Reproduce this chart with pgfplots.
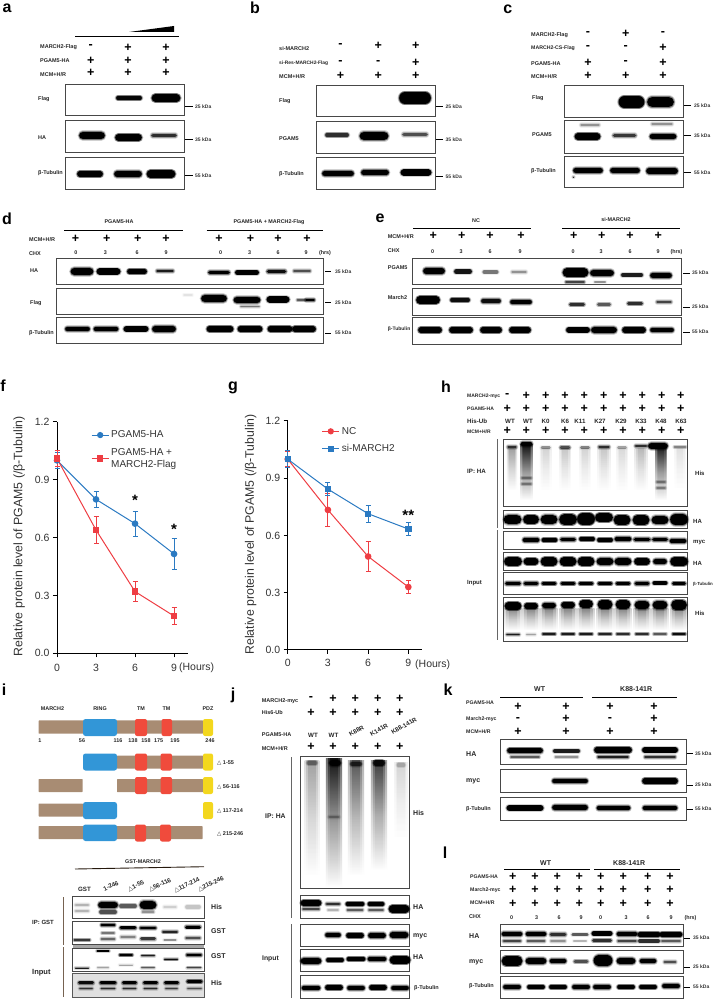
\documentclass[border=0pt]{standalone}
\usepackage{fontspec}
\setmainfont{Liberation Sans}
\newfontfamily\djv{DejaVu Sans}
\usepackage{pgfplots}
\pgfplotsset{compat=1.18}
\definecolor{bluec}{RGB}{43,122,194}
\definecolor{redc}{RGB}{238,61,67}
\definecolor{brownc}{RGB}{168,140,115}
\definecolor{ringc}{RGB}{50,150,215}
\definecolor{tmc}{RGB}{240,75,60}
\definecolor{pdzc}{RGB}{243,215,30}
\tikzset{
  lab/.style={font=\bfseries\fontsize{5.5}{6}\selectfont,anchor=west,inner sep=0pt,text=black!85},
  blab/.style={font=\bfseries\fontsize{7}{8}\selectfont,anchor=west,inner sep=0pt,text=black!85},
  panel/.style={font=\bfseries\fontsize{16}{16}\selectfont,anchor=center,inner sep=0pt},
  sgn/.style={font=\bfseries\fontsize{12.5}{10}\selectfont,anchor=center,inner sep=0pt},
  numl/.style={font=\bfseries\fontsize{5.4}{6}\selectfont,anchor=center,inner sep=0pt,text=black!85},
  kd/.style={font=\bfseries\fontsize{5}{6}\selectfont,anchor=west,inner sep=0pt,text=black!80},
  rl/.style={font=\bfseries\fontsize{6.2}{7}\selectfont,anchor=center,inner sep=0pt,text=black!85},
}

% canvas axis: one unit is one pixel of the reference, y runs downward
\newcommand\Lab[3]{\node[lab] at (axis cs:#1,#2) {#3};}
\newcommand\Bl[3]{\node[blab] at (axis cs:#1,#2) {#3};}
\newcommand\Let[3]{\node[panel] at (axis cs:#1,#2) {#3};}
\newcommand\Plus[2]{\pgfplotsinvokeforeach{#2}{\node[sgn] at (axis cs:##1,#1) {+};}}
\newcommand\Minus[2]{\pgfplotsinvokeforeach{#2}{\node[sgn] at (axis cs:##1,#1) {-};}}
\newcommand\Txt[3]{\node[numl] at (axis cs:#1,#2) {#3};}
\newcommand\Rl[4]{\node[rl,rotate=#3] at (axis cs:#1,#2) {#4};}
\newcommand\Sz[4]{\node[lab,font=\bfseries\fontsize{#3}{8}\selectfont] at (axis cs:#1,#2) {#4};}
\newcommand\Rule[3]{\addplot[black,line width=0.9pt] coordinates {(#1,#3) (#2,#3)};}
\newcommand\Bx[4]{\addplot[draw=black!72,line width=0.9pt,fill=white] coordinates {(#1,#2) (#3,#2) (#3,#4) (#1,#4)} --cycle;}
\newcommand\KD[3]{\edef\doplot{\noexpand\addplot[black,line width=1pt] coordinates {(#1,#2) (\kx,#2)};\noexpand\node[kd] at (axis cs:\kt,#2) {#3};}\doplot}
% band: x, y, width, height, strength
\newcommand\B[5]{%
  \pgfmathsetmacro\xa{#1-max(#3-#4,0.5)/2}\pgfmathsetmacro\xb{#1+max(#3-#4,0.5)/2}%
  \pgfmathsetmacro\oa{#5*0.18}\pgfmathsetmacro\wa{#4+2.8}\pgfmathsetmacro\oe{#5*0.42}\pgfmathsetmacro\we{#4+1.3}%
  \pgfmathsetmacro\wc{max(#4-0.3,0.6)}%
  \edef\doplot{\noexpand\addplot[black,line cap=round,line width=\wa pt,opacity=\oa] coordinates {(\xa,#2) (\xb,#2)};%
    \noexpand\addplot[black,line cap=round,line width=\we pt,opacity=\oe] coordinates {(\xa,#2) (\xb,#2)};%
    \noexpand\addplot[black,line cap=round,line width=\wc pt,opacity=#5] coordinates {(\xa,#2) (\xb,#2)};}\doplot}
% one shaded column of a smear
\newcommand\Sh[5]{%
  \pgfmathsetmacro\sl{#1-#4/2}\pgfmathsetmacro\sr{#1+#4/2}\pgfmathsetmacro\sb{#2+#3}%
  \edef\doplot{\noexpand\addplot[draw=none,top color=black,bottom color=white,middle color=black!42,opacity=#5] coordinates {(\sl,#2) (\sr,#2) (\sr,\sb) (\sl,\sb)} --cycle;}\doplot}
% smear: x, top, length, width, strength
\newcommand\Smear[5]{%
  \pgfmathsetmacro\wo{#4*1.15}\pgfmathsetmacro\wm{#4*0.85}\pgfmathsetmacro\wi{#4*0.55}%
  \Sh{#1}{#2}{#3}{\wo}{#5}\Sh{#1}{#2}{#3}{\wm}{#5}\Sh{#1}{#2}{#3}{\wi}{#5}}
\newcommand\Seg[6]{\addplot[fill=#6,draw=none,rounded corners=#5] coordinates {(#1,#3) (#2,#3) (#2,#4) (#1,#4)} --cycle;}

\begin{document}
\begin{tikzpicture}[x=1pt,y=1pt]
\path[use as bounding box] (0,0) rectangle (712pt,1000pt);
\begin{axis}[
  at={(0pt,0pt)},anchor=south west,scale only axis,width=712pt,height=1000pt,
  xmin=0,xmax=712,ymin=0,ymax=1000,y dir=reverse,hide axis,
]
% ---------- a
\Let{7}{8}{a}
\addplot[black,line width=1pt] coordinates {(75,37) (178.5,37)};
\addplot[black,fill=black,draw=none] coordinates {(129,32) (174,26) (174,32)} --cycle;
\Lab{40}{47.5}{MARCH2-Flag}\Lab{40}{60.5}{PGAM5-HA}\Lab{40}{74.5}{MCM+H/R}
\Minus{47}{90.7}\Plus{48}{128,166}\Plus{60.5}{90.7,128,166}\Plus{73}{90.7,128,166}
\Bx{65.7}{84}{184.3}{115.7}\Bx{65.7}{120.7}{184.3}{152.3}\Bx{65.7}{157.3}{184.3}{189.3}
\Lab{38}{99}{Flag}\Lab{38}{138}{HA}\Lab{38}{173}{β-Tubulin}
\def\kx{192.5}\def\kt{195}
\KD{185}{107}{25 kDa}\KD{185}{139.5}{35 kDa}\KD{185}{176}{55 kDa}
\B{129}{98}{26}{4}{.95}\B{166}{98}{29}{8}{1}
\B{92}{135.5}{26}{8}{1}\B{128.5}{137.5}{27}{7}{1}\B{164}{135.5}{26}{3.6}{.7}
\B{90}{174}{26}{6}{1}\B{128}{174}{28}{6.5}{1}\B{161}{174}{29}{8}{1}
% ---------- b
\Let{255}{8}{b}
\Lab{279}{49}{si-MARCH2}\Sz{279}{63.5}{4.9}{si-Res-MARCH2-Flag}\Lab{279}{77}{MCM+H/R}
\Minus{46}{340.5}\Plus{46}{378.3,415.7}\Minus{62.5}{340.5,378.3}\Plus{62.5}{415.7}\Plus{75.5}{340.5,378.3,415.7}
\Bx{316.3}{85}{435.3}{116.5}\Bx{316.3}{121}{435.3}{153}\Bx{316.3}{157.5}{435.3}{189.5}
\Lab{279}{101}{Flag}\Lab{279}{139}{PGAM5}\Lab{279}{174.5}{β-Tubulin}
\def\kx{442.5}\def\kt{445.5}
\KD{436}{107}{25 kDa}\KD{436}{139.5}{35 kDa}\KD{436}{177}{55 kDa}
\B{415}{98}{32}{12}{1}
\B{337}{135}{24}{4}{.7}\B{374}{136}{29}{9}{1}\B{415}{134.5}{26}{4}{.55}
\B{338}{173.5}{32}{6}{1}\B{375}{172.5}{28}{5.5}{1}\B{416}{172.5}{31}{6.5}{1}
% ---------- c
\Let{507.7}{9}{c}
\Lab{531}{35}{MARCH2-Flag}\Sz{531}{48.5}{5.2}{MARCH2-CS-Flag}\Lab{531}{63.5}{PGAM5-HA}\Lab{531}{77}{MCM+H/R}
\Minus{34}{588,663}\Plus{34}{625.7}\Minus{48}{588,625.7}\Plus{48}{663}\Plus{63}{588,663}\Minus{63}{625.7}\Plus{75.5}{588,625.7,663}
\Bx{564.3}{85.3}{683.3}{117}\Bx{564.3}{120.5}{683.3}{153}\Bx{564.3}{156.3}{683.3}{187.7}
\Lab{532}{98}{Flag}\Lab{532}{135}{PGAM5}\Lab{531}{171}{β-Tubulin}
\def\kx{691}\def\kt{694}
\KD{684}{105.5}{25 kDa}\KD{684}{135.5}{35 kDa}\KD{684}{173}{55 kDa}
\B{631.5}{102}{26}{12}{1}\B{660.5}{102}{27}{11}{1}
\B{590}{125}{20}{3}{.3}\B{662}{124}{22}{3}{.3}
\B{587.5}{136.5}{26}{7}{1}\B{624.5}{135.5}{24}{4}{.65}\B{663}{136.5}{27}{6}{1}
\B{588}{170.5}{30}{6}{1}\B{625}{170.5}{30}{6}{1}\B{662}{171}{32}{6.5}{1}
\B{573.5}{177}{1}{1}{.7}
% ---------- d
\Let{7}{219}{d}
\Txt{119}{222}{PGAM5-HA}\Txt{269}{222}{PGAM5-HA + MARCH2-Flag}
\Rule{64}{183}{230.5}\Rule{206.5}{323}{230.5}
\Lab{29}{239.5}{MCM+H/R}\Lab{29}{254}{CHX}\Lab{30}{271}{HA}\Lab{30}{303}{Flag}\Lab{29}{333}{β-Tubulin}
\Plus{239}{75.5,106.7,137.7,166,219,250.5,278,307}
\Txt{76}{253}{0}\Txt{105.5}{253}{3}\Txt{137}{253}{6}\Txt{166}{253}{9}\Txt{220.5}{253}{0}\Txt{249.5}{253}{3}\Txt{278}{253}{6}\Txt{306}{253}{9}\Txt{325}{253}{(hrs)}
\Bx{56}{258.3}{323.7}{284.7}\Bx{56}{288}{323.7}{314.7}\Bx{56}{317.3}{323.7}{343.5}
\def\kx{331}\def\kt{335}
\KD{325}{271.5}{35 kDa}\KD{325}{302.5}{25 kDa}\KD{325}{333}{55 kDa}
\B{82}{271.5}{23}{8}{1}\B{108.5}{271.5}{24}{6.5}{1}\B{137}{271.5}{20}{5}{1}\B{165}{271}{18}{3}{.8}
\B{219}{272.5}{22}{4}{1}\B{247}{272.5}{24}{4.5}{1}\B{276.5}{271.5}{20}{4}{.9}\B{302}{271}{18}{2.5}{.55}
\B{214}{298.5}{26}{8}{1}\B{247}{300}{27}{7}{1}\B{278}{299.5}{23}{6.5}{1}\B{310}{300}{10}{2.5}{1}\B{301}{300}{9}{2}{.5}
\B{250}{306.5}{20}{2}{.4}\B{188}{295}{10}{2}{.07}
\B{77.5}{329}{25}{5}{1}\B{106}{329}{25}{5}{1}\B{136}{329}{25}{5.5}{1}\B{164}{329}{24}{6.5}{1}
\B{220}{329}{27}{6}{1}\B{250}{329}{25}{6}{1}\B{280}{329}{25}{6}{1}\B{304}{329}{24}{6}{1}
% ---------- e
\Let{380}{218}{e}
\Txt{476}{220.5}{NC}\Txt{616}{220}{si-MARCH2}
\Rule{413}{530.5}{228}\Rule{562}{680}{228}
\Lab{387.7}{237}{MCM+H/R}\Lab{387.7}{251}{CHX}\Lab{387.7}{268}{PGAM5}\Lab{387.7}{298}{March2}\Sz{387.7}{329}{5}{β-Tubulin}
\Plus{236}{433.3,461.7,490,521,573.7,601.7,630,658.3}
\Txt{432.5}{252}{0}\Txt{461}{252}{3}\Txt{490}{252}{6}\Txt{520}{252}{9}\Txt{573}{252}{0}\Txt{601}{252}{3}\Txt{630}{252}{6}\Txt{658}{252}{9}\Txt{676.5}{252}{(hrs)}
\Bx{412.3}{258.3}{681.7}{284.3}\Bx{412.3}{288}{681.7}{315}\Bx{412.3}{317.5}{681.7}{344}
\def\kx{689.5}\def\kt{692}
\KD{683}{273}{35 kDa}\KD{683}{307}{25 kDa}\KD{683}{332}{55 kDa}
\B{434}{271}{22}{6.5}{1}\B{463}{271.5}{18}{4.5}{.85}\B{490.5}{272}{16}{3.5}{.4}\B{519}{272}{16}{3}{.3}
\B{575.5}{272.5}{26}{9}{1}\B{602}{273}{24}{7}{1}\B{632}{275}{22}{3.5}{.8}\B{661}{275.5}{22}{6}{1}
\B{575}{282}{20}{2}{.6}\B{600}{282}{12}{1.5}{.3}
\B{428}{300}{24}{8}{1}\B{460}{300}{20}{4}{.9}\B{491}{301}{20}{4.5}{.9}\B{521}{302}{22}{5}{1}
\B{577}{304.5}{16}{3}{.7}\B{604}{304.5}{14}{3}{.5}\B{635}{303.5}{16}{3}{.7}\B{664}{302}{16}{3}{.6}
\B{430}{330}{24}{6}{1}\B{461}{330}{24}{6}{1}\B{491}{330}{22}{6}{1}\B{520}{330}{22}{6}{1}
\B{578}{330}{24}{5.5}{1}\B{604}{330}{26}{7}{1}\B{634}{330}{24}{6}{1}\B{662}{330}{24}{5}{1}
% ---------- panel letters f g h
\Let{3}{386}{f}\Let{233}{388}{g}\Let{446}{387}{h}
% ---------- h
\Sz{467}{396}{5}{MARCH2-myc}\Sz{467}{408.5}{5}{PGAM5-HA}\Sz{467}{421}{6.2}{His-Ub}\Sz{467}{432}{5}{MCM+H/R}
\Minus{396}{507.3}\Plus{396}{526.3,545.7,565,584.3,603.7,623,642.3,661.7,680.7}
\Plus{409}{507.3,526.3,545.7,565,584.3,603.7,623,642.3,661.7,680.7}
\Plus{431}{507.3,526.3,545.7,565,584.3,603.7,623,642.3,661.7,680.7}
\Rl{510}{421.5}{0}{WT}\Rl{528}{421.5}{0}{WT}\Rl{545.7}{421.5}{0}{K0}\Rl{565}{421.5}{0}{K6}\Rl{580}{421.5}{0}{K11}\Rl{600}{421.5}{0}{K27}\Rl{621}{421.5}{0}{K29}\Rl{641}{421.5}{0}{K33}\Rl{661}{421.5}{0}{K48}\Rl{681}{421.5}{0}{K63}
\addplot[black!60,line width=1pt] coordinates {(497.7,439) (497.7,528)};
\addplot[black!60,line width=1pt] coordinates {(497.7,530) (497.7,640)};
\Bx{503.3}{439}{687.3}{506}\Bx{503.3}{510.3}{687.3}{528.3}\Bx{503.3}{531.3}{687.3}{549.3}\Bx{503.3}{552.7}{687.3}{570}\Bx{503.3}{572.7}{687.3}{594.3}\Bx{503.3}{597}{687.3}{641.7}
\Sz{467}{471}{6.2}{IP: HA}\Sz{467}{583}{6}{Input}\Sz{695}{473}{6}{His}\Sz{693}{521}{6}{HA}\Sz{693}{543}{6}{myc}\Sz{693}{563}{6}{HA}\Sz{693}{584}{4.4}{β-Tubulin}\Sz{695}{613.5}{6}{His}
\Smear{512}{448}{42}{9}{.14}\B{512}{447}{10}{3}{.7}
\Smear{526.5}{444}{56}{11}{.6}\B{526.5}{444}{12}{5}{1}\B{526.5}{478}{11}{2}{.3}\B{526.5}{484}{11}{2}{.3}
\Smear{545.7}{448}{42}{10}{.06}\B{545.7}{447.5}{10}{2.5}{.3}
\Smear{565}{448}{42}{10}{.08}\B{565}{447.5}{11}{3}{.55}
\Smear{585}{448}{42}{10}{.06}\B{585}{447.5}{10}{2.5}{.35}
\Smear{604}{448}{42}{11}{.08}\B{604}{447}{12}{3}{.7}
\Smear{622}{448}{42}{10}{.05}\B{622}{447.5}{10}{2.5}{.25}
\Smear{641}{448}{42}{11}{.1}\B{641}{446}{13}{3}{.7}
\Smear{661}{444}{56}{10}{.6}\B{658}{446}{20}{7}{1}\B{661}{482}{10}{2}{.3}\B{661}{488}{10}{2}{.3}
\Smear{680}{448}{40}{10}{.04}\B{680}{447}{13}{2}{.35}
\B{512.5}{519.5}{18}{10}{1}\B{531}{519.5}{16}{9}{1}\B{549}{519.5}{17}{10}{1}\B{568}{519.5}{18}{11}{1}\B{586}{519}{18}{12}{1}\B{604}{517.5}{18}{9}{1}\B{622}{520}{17}{10}{1}\B{641}{520}{17}{10}{1}\B{660}{520}{17}{9}{1}\B{679}{519.5}{18}{12}{1}
\B{531}{540}{17}{4.5}{1}\B{549.5}{540}{16}{4}{1}\B{568}{539.5}{16}{4}{1}\B{587}{539}{16}{4}{1}\B{605}{540}{16}{4}{1}\B{623}{539}{17}{4.5}{1}\B{642}{539.5}{17}{4}{1}\B{660}{539.5}{16}{4}{1}\B{678}{541}{17}{4.5}{1}
\B{513}{561.5}{18}{9}{1}\B{531}{561.5}{15}{7}{1}\B{549}{561.5}{17}{9}{1}\B{568}{561.5}{17}{9}{1}\B{586}{561.5}{17}{9}{1}\B{605}{561.5}{17}{8}{1}\B{623}{561.5}{17}{8}{1}\B{642}{561.5}{16}{7}{1}\B{660}{561.5}{14}{6}{1}\B{679}{561.5}{18}{9}{1}
\B{513}{583.5}{16}{3.5}{1}\B{531}{583.5}{15}{3.5}{1}\B{549}{583.5}{15}{3}{1}\B{568}{583.5}{15}{3}{1}\B{586}{583.5}{15}{3}{1}\B{605}{583.5}{15}{3}{1}\B{623}{583.5}{15}{3}{1}\B{642}{583.5}{15}{3.5}{1}\B{660}{583}{15}{3.5}{1}\B{679}{583.5}{14}{3}{1}
\Smear{513}{608}{22}{15}{.2}\Smear{531}{608}{22}{15}{.2}\Smear{549}{608}{22}{15}{.2}\Smear{568}{608}{22}{15}{.2}\Smear{586}{608}{22}{15}{.2}\Smear{605}{608}{22}{15}{.2}\Smear{623}{608}{22}{15}{.2}\Smear{642}{608}{22}{15}{.2}\Smear{660}{608}{22}{15}{.2}\Smear{679}{608}{22}{15}{.2}
\B{513}{606}{17}{8}{1}\B{531}{606}{14}{6}{1}\B{549}{605.5}{14}{6}{1}\B{568}{605}{14}{6}{1}\B{586}{604}{14}{8}{1}\B{605}{604.5}{15}{9}{1}\B{623}{604.5}{15}{9}{1}\B{642}{605}{15}{9}{1}\B{660}{605}{15}{9}{1}\B{679}{605}{16}{10}{1}
\B{513}{634.5}{14}{2}{.8}\B{531}{634.5}{10}{1.5}{.25}\B{549}{634}{14}{2}{.8}\B{568}{634}{14}{2}{.8}\B{586}{634}{14}{2}{.8}\B{605}{634}{14}{2}{.75}\B{623}{634}{14}{2}{.7}\B{642}{634}{14}{2}{.7}\B{660}{634}{14}{2}{.5}\B{679}{634}{14}{2}{.9}
% ---------- i
\Let{4}{690}{i}
\Txt{52.5}{709}{MARCH2}\Txt{100}{709}{RING}\Txt{141}{709}{TM}\Txt{166.5}{709}{TM}\Txt{208}{709}{PDZ}
\Seg{38.7}{203}{720.3}{733.7}{0.5pt}{brownc}\Seg{83}{117}{719}{736}{2.5pt}{ringc}\Seg{135}{147}{719}{736}{2pt}{tmc}\Seg{161.5}{172}{719}{736}{2pt}{tmc}\Seg{203}{213}{719}{736}{2pt}{pdzc}
\Txt{40}{741}{1}\Txt{82}{741}{56}\Txt{118}{741}{116}\Txt{133}{741}{138}\Txt{146}{741}{158}\Txt{158.7}{741}{175}\Txt{175}{741}{195}\Txt{210}{741}{246}
\Seg{117}{203}{755.5}{768.5}{0.5pt}{brownc}\Seg{83}{117}{753.5}{770.5}{2.5pt}{ringc}\Seg{135}{147}{753.5}{770.5}{2pt}{tmc}\Seg{160.5}{172}{753.5}{770.5}{2pt}{tmc}\Seg{203}{213}{753.5}{770.5}{2pt}{pdzc}
\Seg{38.7}{82.7}{779}{792}{0.5pt}{brownc}\Seg{117}{203}{779}{792}{0.5pt}{brownc}\Seg{135}{147}{777}{794}{2pt}{tmc}\Seg{160.5}{172}{777}{794}{2pt}{tmc}\Seg{203}{213}{777}{794}{2pt}{pdzc}
\Seg{38.7}{83}{803.5}{816.5}{0.5pt}{brownc}\Seg{83}{117}{802}{819}{2.5pt}{ringc}\Seg{203}{213}{802}{819}{2pt}{pdzc}
\Seg{38.7}{202.5}{826}{839}{0.5pt}{brownc}\Seg{83}{117}{824.5}{841}{2.5pt}{ringc}\Seg{135}{146}{824.5}{841.5}{2pt}{tmc}\Seg{160}{171}{824.5}{841.5}{2pt}{tmc}
\Lab{217}{763}{{\djv\mdseries △} 1-55}\Lab{217}{786.5}{{\djv\mdseries △} 56-116}\Lab{217}{810.5}{{\djv\mdseries △} 117-214}\Lab{217}{834}{{\djv\mdseries △} 215-246}
\Txt{143}{862}{GST-MARCH2}
\addplot[black!80!brown,line width=0.9pt] coordinates {(75,869) (204,866.7)};
\Rl{84.5}{889}{0}{GST}\Rl{111}{886}{25}{1-246}\Rl{136}{886}{25}{{\djv\mdseries △}1-55}\Rl{160}{885}{25}{{\djv\mdseries △}56-116}\Rl{187}{885}{25}{{\djv\mdseries △}117-214}\Rl{211}{884}{25}{{\djv\mdseries △}215-246}
\addplot[brownc!70!black,line width=1pt] coordinates {(63,897) (63,945)};
\addplot[brownc!70!black,line width=1pt] coordinates {(63,947) (63,997)};
\addplot[fill=black!35,draw=none] coordinates {(72.5,944) (204,944) (204,948.5) (72.5,948.5)} --cycle;
\Bx{72.5}{896}{204}{918.7}\Bx{72.5}{921}{204}{944.3}\Bx{72.5}{948.3}{204}{971.3}\addplot[draw=black!65,line width=0.9pt,fill=black!12] coordinates {(72.5,973.3) (204,973.3) (204,997.3) (72.5,997.3)} --cycle;
\Sz{32}{922}{6}{IP: GST}\Sz{32}{973}{7.5}{Input}\Bl{211}{907}{His}\Bl{211}{931}{GST}\Bl{211}{956}{GST}\Bl{211}{983}{His}
\B{82}{905}{15}{3}{.2}\B{82}{911}{15}{3}{.2}\B{108}{905}{20}{7}{1}\B{108}{912}{18}{4}{.55}\B{128}{906}{18}{4}{.5}\B{148}{905}{17}{9}{1}\B{148}{912}{13}{2}{.3}\B{170}{907}{14}{3}{.12}\B{193}{907}{16}{4}{.15}
\B{82}{940}{17}{1.8}{.65}\B{108}{925}{15}{2.5}{1}\B{108}{933}{14}{2}{.4}\B{108}{939}{15}{2.5}{.45}\B{128}{927.7}{17}{3}{1}\B{128}{937}{16}{3}{.35}\B{148}{928}{17}{3}{1}\B{148}{938.7}{16}{3}{.65}\B{170}{931.7}{16}{2.5}{.75}\B{170}{940}{13}{1.5}{.3}\B{193}{927.3}{16}{3}{1}\B{193}{938}{16}{3}{.55}
\B{82}{968}{14}{1.2}{.8}\B{103}{951}{13}{1.6}{1}\B{103}{967.7}{12}{1.2}{.25}\B{126}{955}{14}{2}{1}\B{126}{965}{14}{1.2}{.25}\B{148}{955.7}{14}{1.6}{.8}\B{148}{967.7}{14}{1.5}{.5}\B{171}{959.3}{14}{1.4}{.9}\B{194}{955}{16}{2.6}{1}\B{194}{967.7}{15}{1.5}{.6}
\B{86}{982.7}{16}{3}{.9}\B{86}{988.5}{14}{2}{.65}\B{108}{982.7}{17}{3}{1}\B{108}{988.5}{15}{2}{.7}\B{129.5}{982.7}{15}{3}{1}\B{129.5}{988.5}{14}{2}{.7}\B{150.5}{982.7}{15}{3}{1}\B{150.5}{988.5}{14}{2}{.7}\B{171.5}{982.7}{15}{3}{1}\B{171.5}{988.5}{13}{2}{.6}\B{194.5}{981.5}{16}{3}{1}\B{194.5}{988.5}{15}{2}{.5}
% ---------- j
\Let{233}{695}{j}
\Lab{261.7}{701}{MARCH2-myc}\Lab{261.7}{713}{His6-Ub}\Lab{261.7}{735}{PGAM5-HA}\Lab{261.7}{748.5}{MCM+H/R}
\Minus{698.5}{311}\Plus{698.5}{333,355.3,377.7,399.7}\Plus{713}{311,333,355.3,377.7,399.7}\Plus{747}{311,333,355.3,377.7,399.7}
\Rl{313}{735}{0}{WT}\Rl{333.5}{735}{0}{WT}\Rl{356.5}{731}{30}{K88R}\Rl{379}{730}{30}{K141R}\Rl{404}{726}{30}{K88-141R}
\addplot[black!60,line width=1pt] coordinates {(291.7,757) (291.7,918)};
\addplot[black!60,line width=1pt] coordinates {(291.7,924) (291.7,998)};
\Bx{300}{756}{409}{888.7}\Bx{300}{895}{409}{918.3}\Bx{300}{924.3}{409}{946}\Bx{300}{949.3}{409}{971.7}\Bx{300}{975}{409}{998.3}
\Sz{265}{816}{6.8}{IP: HA}\Sz{262}{959}{6.8}{Input}\Bl{413}{813}{His}\Bl{413}{907}{HA}\Bl{413}{936}{myc}\Bl{413}{957}{HA}\Lab{414}{988}{β-Tubulin}
\Smear{312}{760}{115}{13}{.14}\Smear{334}{758}{129}{14}{.58}\Smear{356}{760}{115}{14}{.3}\Smear{379}{760}{110}{14}{.38}\Smear{401}{762}{75}{12}{.06}
\B{312}{763}{11}{4}{.3}\B{335}{763}{12}{7}{.9}\B{356}{764}{12}{5}{.6}\B{379}{763}{12}{6}{.8}\B{401}{765}{9}{4}{.15}
\B{334}{817}{12}{3}{.25}
\B{311}{903}{21}{6}{1}\B{311}{909}{18}{2.5}{.6}\B{333}{904}{15}{3}{.7}\B{333}{910}{12}{2}{.2}\B{355}{904}{19}{4}{1}\B{355}{910}{17}{2.5}{.5}\B{376}{904}{17}{4}{1}\B{376}{910}{16}{2.5}{.5}\B{399}{909}{21}{8}{1}
\B{333}{935}{16}{5}{1}\B{355}{935.5}{18}{5}{1}\B{377}{935.5}{18}{5.5}{1}\B{399}{935}{19}{6.5}{1}
\B{311}{961}{21}{7}{1}\B{335}{960}{18}{4}{1}\B{356}{959}{19}{4}{1}\B{377}{959}{19}{4.5}{1}\B{400}{960}{21}{8}{1}
\B{311}{988}{19}{5}{1}\B{334}{987.5}{18}{5}{1}\B{356}{988}{18}{5}{1}\B{378}{987.5}{18}{5}{1}\B{400}{988}{18}{5}{1}
% ---------- k
\Let{448}{690}{k}
\Bl{534}{689.5}{WT}\Bl{620}{689.5}{K88-141R}
\Rule{500}{583}{697}\Rule{592}{677}{697}
\Sz{466}{703}{5.2}{PGAM5-HA}\Sz{466}{719}{5.2}{March2-myc}\Sz{466}{732}{5.2}{MCM+H/R}
\Plus{707}{518,566,610,654}\Minus{719}{518,610}\Plus{719}{566,654}\Plus{732}{518,566,610,654}
\Bx{500.3}{739}{686}{764.7}\Bx{500.3}{769.7}{686}{792.3}\Bx{500.3}{797.7}{686}{820.7}
\Bl{466}{754}{HA}\Bl{466}{781}{myc}\Lab{466}{809}{β-Tubulin}
\def\kx{693}\def\kt{695}
\KD{687}{753.7}{35 kDa}\KD{687}{785}{25 kDa}\KD{687}{809}{55 kDa}
\B{525}{750.7}{36}{5.5}{1}\B{525}{757}{30}{2}{.5}\B{566.5}{751}{27}{3.5}{.8}\B{566.5}{757}{24}{2}{.3}\B{613}{750}{38}{6}{1}\B{613}{757}{32}{3}{.8}\B{660}{750}{36}{5.5}{1}\B{660}{757}{32}{2.5}{.7}
\B{570}{781}{36}{5}{1}\B{660}{781}{36}{6}{1}
\B{525}{808}{37}{5.5}{1}\B{570}{807.5}{36}{6}{1}\B{613.5}{808}{34}{5}{1}\B{660}{808}{35}{5}{1}
% ---------- l
\Let{445}{853}{l}
\Bl{540}{863}{WT}\Bl{613}{863}{K88-141R}
\Rule{504}{590}{869.5}\Rule{594}{680}{869.5}
\Sz{470}{877}{5.2}{PGAM5-HA}\Sz{470}{890}{5.2}{March2-myc}\Sz{470}{903}{5.2}{MCM+H/R}\Lab{469}{917}{CHX}
\Plus{877}{512.7,535,557.3,579.3,600.7,623.3,647.7,670}\Plus{890}{512.7,535,557.3,579.3,600.7,623.3,647.7,670}\Plus{904}{512.7,535,557.3,579.3,600.7,623.3,647.7,670}
\Txt{511.5}{918}{0}\Txt{536.5}{918}{3}\Txt{559}{918}{6}\Txt{581}{918}{9}\Txt{600.5}{918}{0}\Txt{626}{918}{3}\Txt{648}{918}{6}\Txt{671}{918}{9}\Txt{690.5}{918}{(hrs)}
\Bx{500}{924.7}{683.3}{946.7}\Bx{500}{950}{683.3}{973.3}\Bx{500}{976.7}{683.3}{998.3}
\Bl{469}{936}{HA}\Bl{469}{962}{myc}\Lab{469}{986}{β-Tubulin}
\def\kx{690}\def\kt{693}
\KD{684}{938}{35 kDa}\KD{684}{967}{25 kDa}\KD{684}{987}{55 kDa}
\B{512}{934}{21}{4.5}{1}\B{536}{934}{21}{5}{1}\B{558}{934.5}{17}{3.5}{.7}\B{580}{934.5}{17}{2.5}{.5}\B{602}{933.5}{21}{4.5}{1}\B{627}{934}{21}{4.5}{1}\B{649}{934.5}{23}{5}{1}\B{671}{934.5}{23}{5}{1}
\B{512}{941}{19}{3}{.6}\B{536}{941}{19}{2.5}{.5}\B{558}{941}{16}{2.5}{.3}\B{580}{941}{14}{1.5}{.2}\B{602}{940.5}{20}{3}{.7}\B{627}{941}{20}{3}{.6}\B{649}{941}{22}{3.5}{.7}\B{671}{941}{20}{2.5}{.5}
\B{512}{961}{21}{10}{1}\B{536}{961}{21}{7}{1}\B{558}{961}{17}{4.5}{1}\B{581}{961.5}{15}{3}{.55}\B{603}{960.5}{19}{12}{1}\B{626}{961}{19}{7}{1}\B{648}{961}{17}{5}{1}\B{670}{962}{13}{2.5}{.55}
\B{512}{987}{18}{4.5}{1}\B{536}{987}{18}{4}{1}\B{558}{987}{18}{4}{1}\B{581}{987}{18}{4.5}{1}\B{602}{987}{18}{4.5}{1}\B{626}{987}{18}{4}{1}\B{648}{987}{18}{4}{1}\B{671}{986}{18}{4.5}{1}
\end{axis}

% ---------- f
\begin{axis}[
  at={(57pt,346.7pt)},anchor=south west,scale only axis,width=130.7pt,height=231.5pt,
  xmin=0,xmax=10.05,ymin=0,ymax=1.2,clip=false,
  axis lines=left,axis line style={-,line width=1pt},
  xtick={0,3,6,9},ytick={0,0.3,0.6,0.9,1.2},
  tick align=outside,major tick length=4pt,tick style={black,line width=1pt},
  tick label style={font=\fontsize{10.5}{12}\selectfont,text=black!80},
  xticklabel style={yshift=-3pt},
  /pgf/number format/assume math mode=true,
  yticklabel style={/pgf/number format/fixed,/pgf/number format/fixed zerofill,/pgf/number format/precision=1},
  ylabel={Relative protein level of PGAM5 (/β-Tubulin)},
  ylabel style={font=\fontsize{12.3}{14}\selectfont,text=black!80},
  every axis y label/.append style={at={(axis description cs:-0.29,0.505)},anchor=center,rotate=0},
  legend style={draw=none,fill=none,font=\fontsize{10}{12}\selectfont,at={(axis cs:2.38,1.175)},anchor=north west,row sep=5pt,text=black!80},
  legend cell align=left,
  legend image post style={mark size=2.6pt},
  error bars/y dir=both,error bars/y explicit,
]
\addplot[bluec,line width=1pt,mark=*,mark size=2.8pt,mark options={fill=bluec,solid},
  error bars/error bar style={line width=0.9pt},error bars/error mark options={rotate=90,mark size=2.5pt,line width=0.9pt}]
  coordinates {(0,1.0) +- (0,0.04) (3,0.798) +- (0,0.043) (6,0.672) +- (0,0.064) (9,0.515) +- (0,0.082)};
\addlegendentry{PGAM5-HA}
\addplot[redc,line width=1pt,mark=square*,mark size=2.7pt,mark options={fill=redc,solid},
  error bars/error bar style={line width=0.9pt},error bars/error mark options={rotate=90,mark size=2.5pt,line width=0.9pt}]
  coordinates {(0,1.01) +- (0,0.04) (3,0.639) +- (0,0.069) (6,0.32) +- (0,0.05) (9,0.193) +- (0,0.043)};
\addlegendentry[align=left]{PGAM5-HA +\\MARCH2-Flag}
\node[font=\bfseries\fontsize{15}{15}\selectfont] at (axis cs:6,0.795) {*};
\node[font=\bfseries\fontsize{15}{15}\selectfont] at (axis cs:9,0.64) {*};
\node[font=\fontsize{10.5}{12}\selectfont,text=black!80,anchor=west] at (axis cs:9.12,-0.075) {(Hours)};
\end{axis}

% ---------- g
\begin{axis}[
  at={(287.7pt,350pt)},anchor=south west,scale only axis,width=134.3pt,height=229pt,
  xmin=0,xmax=10.02,ymin=0,ymax=1.2,clip=false,
  axis lines=left,axis line style={-,line width=1pt},
  xtick={0,3,6,9},ytick={0,0.3,0.6,0.9,1.2},
  tick align=outside,major tick length=4pt,tick style={black,line width=1pt},
  tick label style={font=\fontsize{10.5}{12}\selectfont,text=black!80},
  xticklabel style={yshift=-2pt},
  /pgf/number format/assume math mode=true,
  yticklabel style={/pgf/number format/fixed,/pgf/number format/fixed zerofill,/pgf/number format/precision=1},
  ylabel={Relative protein level of PGAM5 (/β-Tubulin)},
  ylabel style={font=\fontsize{12.3}{14}\selectfont,text=black!80},
  every axis y label/.append style={at={(axis description cs:-0.275,0.505)},anchor=center,rotate=0},
  legend style={draw=none,fill=none,font=\fontsize{10}{12}\selectfont,at={(axis cs:2.3,1.19)},anchor=north west,row sep=5pt,text=black!80},
  legend cell align=left,
  legend image post style={mark size=2.6pt},
  error bars/y dir=both,error bars/y explicit,
]
\addplot[redc,line width=1pt,mark=*,mark size=2.8pt,mark options={fill=redc,solid},
  error bars/error bar style={line width=0.9pt},error bars/error mark options={rotate=90,mark size=2.5pt,line width=0.9pt}]
  coordinates {(0,1.0) +- (0,0.04) (3,0.734) +- (0,0.084) (6,0.49) +- (0,0.079) (9,0.33) +- (0,0.035)};
\addlegendentry{NC}
\addplot[bluec,line width=1pt,mark=square*,mark size=2.7pt,mark options={fill=bluec,solid},
  error bars/error bar style={line width=0.9pt},error bars/error mark options={rotate=90,mark size=2.5pt,line width=0.9pt}]
  coordinates {(0,1.0) +- (0,0.045) (3,0.843) +- (0,0.035) (6,0.714) +- (0,0.045) (9,0.634) +- (0,0.033)};
\addlegendentry{si-MARCH2}
\node[font=\bfseries\fontsize{15}{15}\selectfont] at (axis cs:9,0.705) {**};
\node[font=\fontsize{10.5}{12}\selectfont,text=black!80,anchor=west] at (axis cs:9.25,-0.075) {(Hours)};
\end{axis}
\end{tikzpicture}
\end{document}
